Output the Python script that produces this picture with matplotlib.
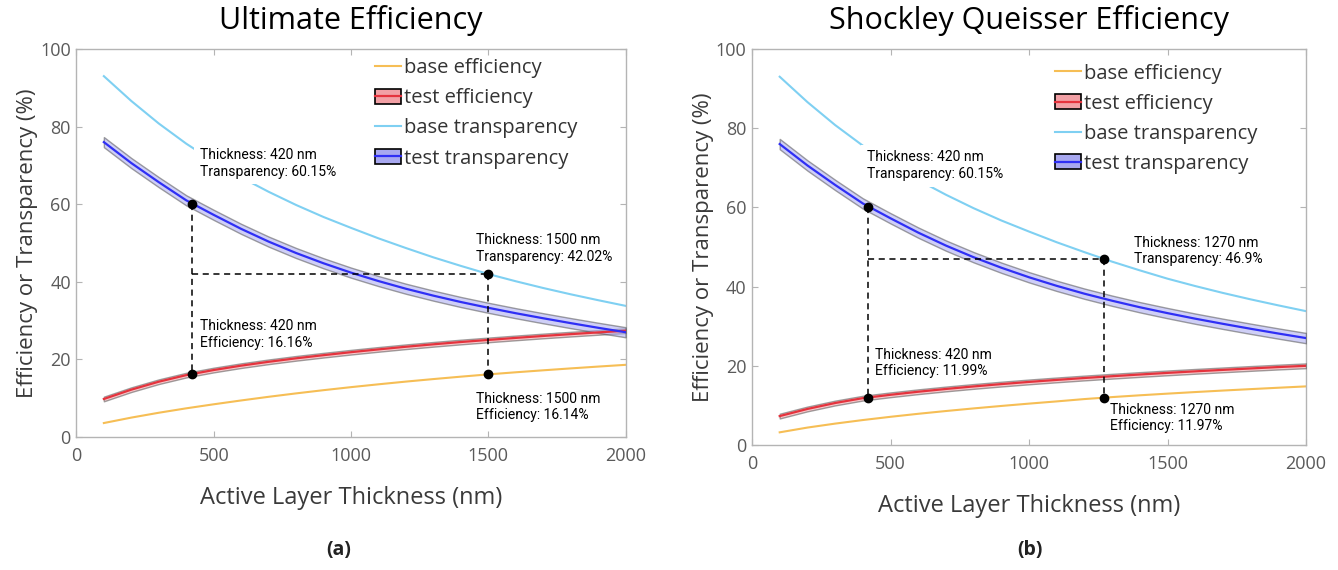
import matplotlib
matplotlib.use("Agg")
import matplotlib.pyplot as plt
from matplotlib.patches import Patch
from matplotlib.lines import Line2D
from matplotlib import font_manager

# ---- data ---------------------------------------------------------------
thickness = [100, 200, 300, 400, 500, 600, 700, 800, 900, 1000,
             1100, 1200, 1300, 1400, 1500, 1600, 1700, 1800, 1900, 2000]

base_transparency = [93.0, 86.6, 80.8, 75.6, 71.0, 66.9, 63.2, 59.8, 56.7, 53.9,
                     51.2, 48.7, 46.3, 44.1, 42.0, 40.14, 38.4, 36.78, 35.26, 33.8]
test_transparency = [76.0, 70.6, 65.68, 61.0, 57.25, 53.64, 50.36, 47.42, 44.77, 42.36,
                     40.19, 38.21, 36.43, 34.79, 33.3, 31.9, 30.6, 29.35, 28.15, 27.0]

ult_base_eff = [3.6, 5.0, 6.25, 7.39, 8.43, 9.42, 10.36, 11.24, 12.07, 12.85,
                13.58, 14.28, 14.93, 15.55, 16.14, 16.68, 17.19, 17.68, 18.15, 18.6]
ult_test_eff = [9.8, 12.2, 14.25, 15.95, 17.26, 18.39, 19.38, 20.28, 21.09, 21.86,
                22.58, 23.26, 23.89, 24.48, 25.02, 25.54, 26.04, 26.51, 26.96, 27.39]

sq_base_eff = [3.2, 4.4, 5.4, 6.3, 7.12, 7.88, 8.58, 9.24, 9.86, 10.45,
               11.01, 11.6, 12.1, 12.55, 12.97, 13.37, 13.75, 14.11, 14.46, 14.8]
sq_test_eff = [7.3, 9.1, 10.6, 11.83, 12.68, 13.45, 14.15, 14.79, 15.38, 15.93,
               16.44, 16.92, 17.37, 17.8, 18.21, 18.6, 18.97, 19.33, 19.68, 20.0]

# half-widths of the shaded uncertainty bands
transparency_spread = 1.3
efficiency_spread = 0.6

# data tips: (thickness, value)
ult_tips = {"trans_a": (420, 60.15), "eff_a": (420, 16.16),
            "trans_b": (1500, 42.02), "eff_b": (1500, 16.14)}
sq_tips = {"trans_a": (420, 60.15), "eff_a": (420, 11.99),
           "trans_b": (1270, 46.9), "eff_b": (1270, 11.97)}

titles = ["Ultimate Efficiency", "Shockley Queisser Efficiency"]
panel_tags = ["(a)", "(b)"]
legend_labels = ["base efficiency", "test efficiency",
                 "base transparency", "test transparency"]

# ---- style --------------------------------------------------------------
available = {f.name for f in font_manager.fontManager.ttflist}
main_font = "Open Sans" if "Open Sans" in available else "DejaVu Sans"
tip_font = "Roboto" if "Roboto" in available else "DejaVu Sans"
plt.rcParams["font.family"] = [main_font, "DejaVu Sans"]

c_base_eff = "#F6BE55"
c_base_trans = "#7FD0F2"
c_test_eff = "#E5333D"
c_test_trans = "#2F2FF5"
c_frame = "#B4B4B4"
c_ticklabel = "#5A5A5A"

W, H = 1338, 570
fig = plt.figure(figsize=(W / 100, H / 100), dpi=100)

axes_px = [(76.4, 49, 625.6, 437), (752, 49, 1306, 445)]
legend_anchor = [(0.5437, 0.976), (0.547, 0.963)]


def draw_panel(ax, base_eff, test_eff, tips, tip_offsets, anchor):
    x = thickness
    ax.plot(x, base_eff, color=c_base_eff, lw=1.5, zorder=2)
    lo = [v - efficiency_spread for v in test_eff]
    hi = [v + efficiency_spread for v in test_eff]
    ax.fill_between(x, lo, hi, facecolor="#F2A0A5", edgecolor="#555555",
                    lw=1.0, alpha=0.55, zorder=3)
    ax.plot(x, test_eff, color=c_test_eff, lw=1.6, zorder=4)

    ax.plot(x, base_transparency, color=c_base_trans, lw=1.5, zorder=2)
    lo = [v - transparency_spread for v in test_transparency]
    hi = [v + transparency_spread for v in test_transparency]
    ax.fill_between(x, lo, hi, facecolor="#A8A8F0", edgecolor="#555555",
                    lw=1.0, alpha=0.55, zorder=3)
    ax.plot(x, test_transparency, color=c_test_trans, lw=1.6, zorder=4)

    # guide lines between the data tips
    xa, ya = tips["trans_a"]
    _, ea = tips["eff_a"]
    xb, yb = tips["trans_b"]
    _, eb = tips["eff_b"]
    dash = dict(color="black", lw=1.1, ls=(0, (4, 3)), zorder=5)
    ax.plot([xa, xa], [ya, ea], **dash)
    ax.plot([xa, xb], [yb, yb], **dash)
    ax.plot([xb, xb], [yb, eb], **dash)

    for key, (tx, ty) in tips.items():
        ax.plot([tx], [ty], "o", color="black", ms=6, zorder=6)
        label = "Transparency" if key.startswith("trans") else "Efficiency"
        ox, oy = tip_offsets[key]
        box = (dict(facecolor="white", edgecolor="none", pad=4)
               if key == "trans_a" else None)
        ax.text(ox, oy, f"Thickness: {tx} nm\n{label}: {ty:g}%",
                fontsize=10, family=[tip_font, "DejaVu Sans"], va="center",
                ha="left", linespacing=1.25, zorder=2.5, color="black",
                bbox=box)

    ax.set_xlim(0, 2000)
    ax.set_ylim(0, 100)
    ax.set_xticks([0, 500, 1000, 1500, 2000])
    ax.set_yticks([0, 20, 40, 60, 80, 100])
    ax.tick_params(direction="in", top=True, right=True, length=4,
                   color=c_frame, labelcolor=c_ticklabel, labelsize=13)
    ax.tick_params(axis="x", pad=7)
    ax.tick_params(axis="y", pad=4)
    for s in ax.spines.values():
        s.set_color(c_frame)
        s.set_linewidth(1.0)
    ax.set_xlabel("Active Layer Thickness (nm)", fontsize=17, color="#3A3A3A",
                  labelpad=15)
    ax.set_ylabel("Efficiency or Transparency (%)", fontsize=16,
                  color="#3A3A3A", labelpad=1.5)

    handles = [
        Line2D([], [], color=c_base_eff, lw=1.5),
        (Patch(facecolor="#F2A0A5", edgecolor="black", lw=1.2),
         Line2D([], [], color=c_test_eff, lw=1.6)),
        Line2D([], [], color=c_base_trans, lw=1.5),
        (Patch(facecolor="#A8A8F0", edgecolor="black", lw=1.2),
         Line2D([], [], color=c_test_trans, lw=1.6)),
    ]
    leg = ax.legend(handles, legend_labels, loc="upper left",
                    bbox_to_anchor=anchor, frameon=False, fontsize=14.5,
                    handlelength=1.3, handleheight=0.75, handletextpad=0.15,
                    labelspacing=0.5, borderpad=0, borderaxespad=0)
    for t in leg.get_texts():
        t.set_color("#333333")


offsets = [
    {"trans_a": (450, 70.5), "eff_a": (450, 26.5),
     "trans_b": (1455, 48.5), "eff_b": (1455, 7.7)},
    {"trans_a": (415, 70.5), "eff_a": (444, 20.7),
     "trans_b": (1379, 49.0), "eff_b": (1292, 6.8)},
]
effs = [(ult_base_eff, ult_test_eff, ult_tips), (sq_base_eff, sq_test_eff, sq_tips)]

for i, (l, t, r, b) in enumerate(axes_px):
    ax = fig.add_axes([l / W, 1 - b / H, (r - l) / W, (b - t) / H])
    be, te, tips = effs[i]
    draw_panel(ax, be, te, tips, offsets[i], legend_anchor[i])
    cx = (l + r) / 2 / W
    fig.text(cx, 1 - 20 / H, titles[i], ha="center", va="center", fontsize=22,
             color="black")
    fig.text([339, 1030][i] / W, 1 - 550 / H, panel_tags[i], ha="center",
             va="center", fontsize=14, fontweight="bold", color="#222222")

fig.savefig("out.png", dpi=100, facecolor="white")
